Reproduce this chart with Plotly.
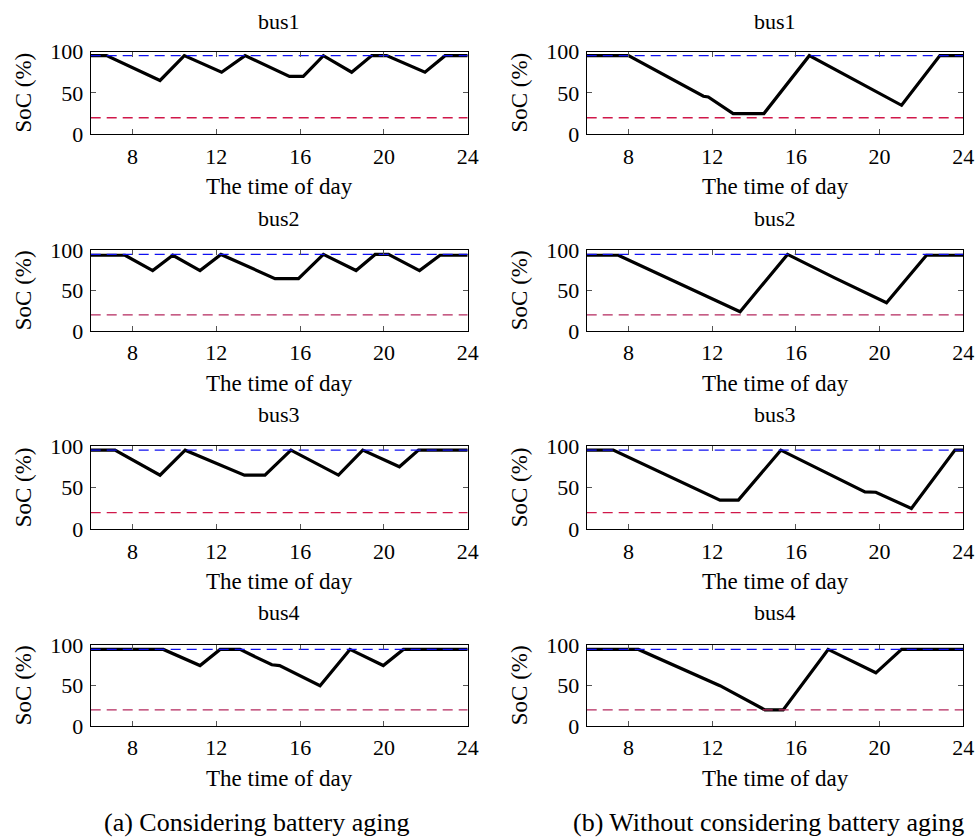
import plotly.graph_objects as go

# ---------------- data ----------------
bus_names = ["bus1", "bus2", "bus3", "bus4"]
captions = ["(a) Considering battery aging", "(b) Without considering battery aging"]
x_ticks = [8, 12, 16, 20, 24]
y_ticks = [0, 50, 100]
soc_max = 95
soc_min = 20
x_range = [6, 24]

# (a) Considering battery aging
t_a1 = [6, 6.76, 9.31, 10.47, 12.25, 13.37, 15.49, 16.15, 17.11, 18.46, 19.42, 20.13, 21.96, 22.92, 24]
s_a1 = [95, 95, 65, 95, 75, 95, 70, 70, 95, 75, 95, 95, 75, 95, 95]
t_a2 = [6, 7.64, 8.96, 9.92, 11.22, 12.22, 14.8, 15.92, 17.11, 18.67, 19.58, 20.22, 21.7, 22.68, 24]
s_a2 = [94, 94, 75, 94, 75, 95, 65, 65, 95, 75, 95, 95, 75, 94, 94]
t_a3 = [6, 7.16, 9.31, 10.51, 13.34, 14.32, 15.56, 17.83, 18.99, 20.74, 21.65, 24]
s_a3 = [95, 95, 65, 95, 65, 65, 95, 65, 95, 75, 95, 95]
t_a4 = [6, 9.47, 11.22, 12.18, 13.13, 14.65, 15.02, 16.95, 18.38, 19.97, 20.93, 24]
s_a4 = [95, 95, 75, 95, 95, 76, 75, 50, 95, 75, 95, 95]

# (b) Without considering battery aging
t_b1 = [6, 8.0, 11.58, 11.81, 13.0, 14.47, 16.64, 21.05, 22.88, 24]
s_b1 = [95, 95, 46, 45, 25, 25, 95, 35, 95, 95]
t_b2 = [6, 7.51, 13.33, 15.6, 17.85, 20.33, 22.24, 24]
s_b2 = [94, 94, 24, 95, 66, 35, 94, 94]
t_b3 = [6, 7.27, 12.37, 13.25, 15.28, 19.3, 19.82, 21.52, 23.6, 24]
s_b3 = [95, 95, 35, 35, 95, 45, 44.5, 25, 95, 95]
t_b4 = [6, 8.47, 12.37, 14.52, 15.39, 17.54, 19.82, 21.05, 24]
s_b4 = [95, 95, 50, 20, 20, 95, 66, 95, 95]

series_t = [[t_a1, t_a2, t_a3, t_a4], [t_b1, t_b2, t_b3, t_b4]]
series_s = [[s_a1, s_a2, s_a3, s_a4], [s_b1, s_b2, s_b3, s_b4]]

# ---------------- layout geometry (pixels) ----------------
W, H = 975, 839
col_px = [(90.7, 467.7), (586.7, 963.3)]
row_px = [(51.5, 134.3), (250.0, 331.0), (446.0, 529.3), (645.0, 726.0)]
row_ymax = [100.0, 100.5, 100.0, 100.5]
min_colors = ["#D0184A", "#B4285E", "#D0184A", "#B4285E"]
title_y = [22, 218, 415, 612]
FONT = "Liberation Serif"

fig = go.Figure()
annotations = []

def px_x(p):
    return p / W

def px_y(p):
    return 1 - p / H

idx = 0
for c in range(2):
    for r in range(4):
        idx += 1
        xa = "x" if idx == 1 else f"x{idx}"
        ya = "y" if idx == 1 else f"y{idx}"
        t = series_t[c][r]
        s = series_s[c][r]
        fig.add_trace(go.Scatter(x=t, y=s, mode="lines",
                                 line=dict(color="black", width=3.2),
                                 xaxis=xa, yaxis=ya, showlegend=False))
        fig.add_trace(go.Scatter(x=x_range, y=[soc_max, soc_max], mode="lines",
                                 line=dict(color="#1010F0", width=1.3, dash="10px,6px"),
                                 xaxis=xa, yaxis=ya, showlegend=False))
        fig.add_trace(go.Scatter(x=x_range, y=[soc_min, soc_min], mode="lines",
                                 line=dict(color=min_colors[r], width=1.3, dash="10px,6px"),
                                 xaxis=xa, yaxis=ya, showlegend=False))
        x0, x1 = col_px[c]
        y0, y1 = row_px[r]
        axis_common = dict(showline=True, linecolor="black", linewidth=1, mirror="ticks",
                           ticks="inside", ticklen=5, tickcolor="#555555", tickwidth=1,
                           showgrid=False, zeroline=False, automargin=False,
                           tickfont=dict(family=FONT, size=22, color="black"))
        fig.layout[("xaxis" if idx == 1 else f"xaxis{idx}")] = dict(
            domain=[px_x(x0), px_x(x1)], range=x_range, tickvals=x_ticks,
            anchor=ya, ticklabelstandoff=2, **axis_common)
        fig.layout[("yaxis" if idx == 1 else f"yaxis{idx}")] = dict(
            domain=[px_y(y1), px_y(y0)], range=[0, row_ymax[r]], tickvals=y_ticks,
            anchor=xa, ticklabelstandoff=2, **axis_common)
        cx = (x0 + x1) / 2
        annotations.append(dict(text=bus_names[r], x=px_x(cx), y=px_y(title_y[r]),
                                xref="paper", yref="paper", showarrow=False,
                                xanchor="center", yanchor="middle",
                                font=dict(family=FONT, size=22, color="black")))
        annotations.append(dict(text="The time of day", x=px_x(cx), y=px_y(y1 + 52),
                                xref="paper", yref="paper", showarrow=False,
                                xanchor="center", yanchor="middle",
                                font=dict(family=FONT, size=23, color="black")))
        annotations.append(dict(text="SoC (%)", x=px_x(x0 - 67), y=px_y((y0 + y1) / 2),
                                xref="paper", yref="paper", showarrow=False, textangle=-90,
                                xanchor="center", yanchor="middle",
                                font=dict(family=FONT, size=23, color="black")))

cap_x = [256, 768]
for c in range(2):
    annotations.append(dict(text=captions[c], x=px_x(cap_x[c]), y=px_y(822),
                            xref="paper", yref="paper", showarrow=False,
                            xanchor="center", yanchor="middle",
                            font=dict(family=FONT, size=26, color="black")))

fig.update_layout(width=W, height=H,
                  margin=dict(l=0, r=0, t=0, b=0, pad=0, autoexpand=False),
                  paper_bgcolor="white", plot_bgcolor="white",
                  annotations=annotations, showlegend=False)

post = ("document.documentElement.style.margin='0';"
        "document.body.style.margin='0';"
        "document.documentElement.style.overflow='hidden';"
        "document.body.style.overflow='hidden';"
        "var gd=document.getElementById('{plot_id}');"
        "gd.style.position='fixed';gd.style.top='0px';gd.style.left='0px';")

fig.write_html("out.html", config={"displayModeBar": False}, post_script=post)
